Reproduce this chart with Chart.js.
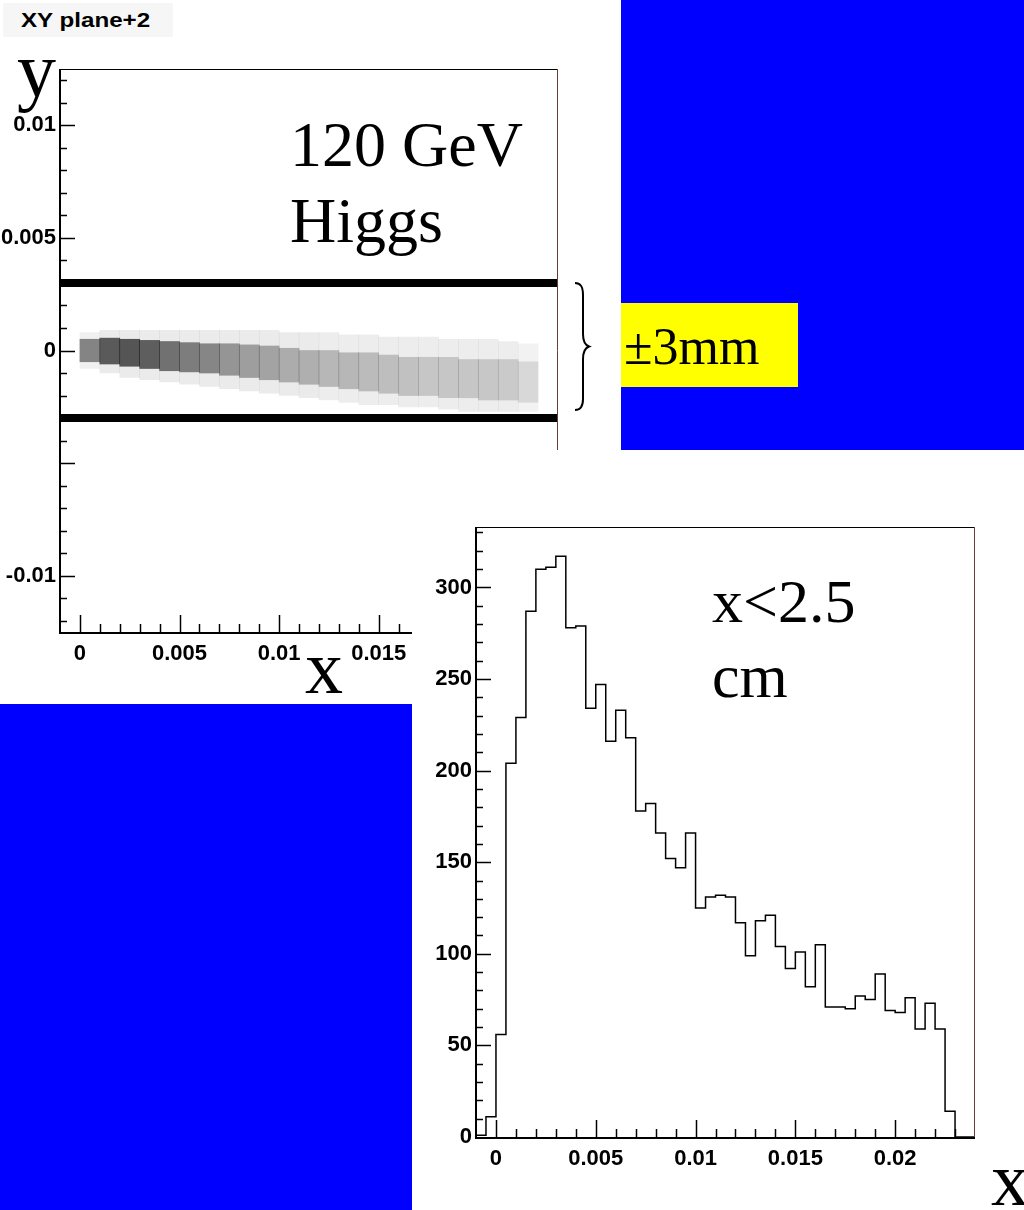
<!DOCTYPE html>
<html><head><meta charset="utf-8">
<script src="https://cdn.jsdelivr.net/npm/chart.js@4.4.0/dist/chart.umd.min.js"></script>
<style>
html,body{margin:0;padding:0;background:#fff;}
body{width:1024px;height:1210px;position:relative;overflow:hidden;}
.abs{position:absolute;}
.serif{font-family:"Liberation Serif","Times New Roman",serif;line-height:1;white-space:nowrap;color:#000;}
canvas{display:block;}
</style></head><body>
<div class="abs" style="left:3px;top:3px;width:170px;height:34px;background:#f6f6f6;"></div>
<div class="abs" id="title" style="left:21px;top:9px;font:bold 21px 'Liberation Sans',Arial,sans-serif;line-height:1;white-space:nowrap;transform:scaleX(1.15);transform-origin:0 0;">XY plane+2</div>
<canvas id="scatter" class="abs" width="620" height="700" style="left:0;top:0;"></canvas>
<div class="abs serif" style="left:290px;top:113px;font-size:64px;">120 GeV</div>
<div class="abs serif" style="left:290px;top:189px;font-size:64px;">Higgs</div>
<div class="abs serif" style="left:17px;top:31px;font-size:78px;">y</div>
<div class="abs serif" style="left:305px;top:629px;font-size:76px;">x</div>
<svg class="abs" style="left:560px;top:270px;" width="40" height="150" viewBox="0 0 40 150">
<path d="M15,13 C21,13 23,17 23,25 L23,64 C23,71 25,75 29,76.5 C25,78 23,82 23,89 L23,129 C23,136 21,140 15,140" fill="none" stroke="#000" stroke-width="2"/>
</svg>
<div class="abs" style="left:621px;top:0;width:403px;height:450px;background:#0000ff;"></div>
<div class="abs" style="left:621px;top:303px;width:177px;height:84px;background:#ffff00;"></div>
<div class="abs serif" style="left:624px;top:321px;font-size:52px;">±3mm</div>
<div class="abs" style="left:0;top:704px;width:412px;height:506px;background:#0000ff;"></div>
<div class="abs" style="left:412px;top:450px;width:612px;height:760px;background:#fff;">
<canvas id="hist" width="612" height="760"></canvas>
</div>
<div class="abs serif" style="left:712px;top:570px;font-size:62px;">x&lt;2.5</div>
<div class="abs serif" style="left:712px;top:645px;font-size:62px;">cm</div>
<div class="abs serif" style="left:991px;top:1141px;font-size:76px;">x</div>
<script>
// ---------- shared axis range ----------
const xMin = -0.001, xMax = 0.024;

// ---------- scatter (XY plane) ----------
const scatterYMin = -0.0125, scatterYMax = 0.0125;
const scatterXTicks = [0, 0.005, 0.01, 0.015, 0.02];
const scatterXTickLabels = ['0', '0.005', '0.01', '0.015', '0.02'];
const scatterYTicks = [-0.01, -0.005, 0, 0.005, 0.01];
const scatterYTickLabels = ['-0.01', '', '0', '0.005', '0.01'];
const cutLevels = [0.003, -0.003];
// cloud columns (x centre), dense core band and sparse halo band, with grey level
const colCenters = [0.0005,0.0015,0.0025,0.0035,0.0045,0.0055,0.0065,0.0075,0.0085,0.0095,0.0105,0.0115,0.0125,0.0135,0.0145,0.0155,0.0165,0.0175,0.0185,0.0195,0.0205,0.0215,0.0225];
const coreTop = [0.0005,0.00055,0.0005,0.00045,0.0004,0.00035,0.0003,0.0003,0.00025,0.0002,0.0001,0,0,-0.0001,-0.0001,-0.0002,-0.0003,-0.0003,-0.0003,-0.0004,-0.0004,-0.0004,-0.0005];
const coreBot = [-0.0005,-0.0006,-0.0007,-0.0008,-0.0009,-0.00095,-0.001,-0.0011,-0.0012,-0.0013,-0.0014,-0.0015,-0.0016,-0.0017,-0.0018,-0.0019,-0.002,-0.002,-0.0021,-0.0021,-0.0022,-0.0022,-0.0023];
const haloTop = [0.0008,0.0009,0.0009,0.0009,0.0009,0.0009,0.0009,0.0009,0.0009,0.0009,0.0008,0.0008,0.0008,0.0007,0.0007,0.0006,0.0006,0.0006,0.0005,0.0005,0.0005,0.0004,0.0003];
const haloBot = [-0.0008,-0.001,-0.0012,-0.0013,-0.0014,-0.0015,-0.0016,-0.0017,-0.0018,-0.0019,-0.002,-0.0021,-0.0022,-0.0023,-0.0024,-0.0024,-0.0025,-0.0025,-0.0026,-0.0027,-0.0027,-0.0027,-0.0027];
const coreShade = [0.45,0.62,0.64,0.6,0.52,0.47,0.43,0.37,0.33,0.31,0.27,0.26,0.23,0.23,0.21,0.2,0.19,0.17,0.17,0.17,0.16,0.15,0.11];
const haloShade = [0.06,0.08,0.08,0.08,0.08,0.08,0.08,0.08,0.08,0.08,0.08,0.08,0.07,0.07,0.07,0.07,0.07,0.07,0.07,0.07,0.07,0.07,0.05];

// ---------- histogram (x < 2.5 cm) ----------
const histEdges = [-0.001,-0.0005,0,0.0005,0.001,0.0015,0.002,0.0025,0.003,0.0035,0.004,0.0045,0.005,0.0055,0.006,0.0065,0.007,0.0075,0.008,0.0085,0.009,0.0095,0.01,0.0105,0.011,0.0115,0.012,0.0125,0.013,0.0135,0.014,0.0145,0.015,0.0155,0.016,0.0165,0.017,0.0175,0.018,0.0185,0.019,0.0195,0.02,0.0205,0.021,0.0215,0.022,0.0225,0.023,0.0235,0.024];
const histCounts = [1,11,56,204,229,287,310,311,317,278,279,234,247,216,233,218,178,182,166,152,147,166,125,131,132,131,117,99,118,121,104,92,101,82,105,71,71,70,77,75,89,69,68,76,59,73,59,14,0,0];
const histYMax = 333;
const histXTicks = [0, 0.005, 0.01, 0.015, 0.02];
const histXTickLabels = ['0', '0.005', '0.01', '0.015', '0.02'];
const histYTicks = [0, 50, 100, 150, 200, 250, 300];
const histYTickLabels = ['0', '50', '100', '150', '200', '250', '300'];

const tickFont = {family: "'Liberation Sans', Arial, sans-serif", size: 22, weight: 'bold'};

// plugin: ROOT-like frame with inward ticks, positioned by the chart scales
const rootFrame = {
  id: 'rootFrame',
  afterDatasetsDraw(chart, args, o) {
    const {ctx, chartArea: {left, right, top, bottom}, scales: {x, y}} = chart;
    ctx.save();
    ctx.lineCap = 'butt';
    ctx.strokeStyle = '#000';
    ctx.lineWidth = 1;
    ctx.beginPath(); ctx.moveTo(left, top + 0.5); ctx.lineTo(right, top + 0.5); ctx.stroke();
    ctx.strokeStyle = '#6e3b3b';
    ctx.beginPath(); ctx.moveTo(right - 0.5, top); ctx.lineTo(right - 0.5, bottom); ctx.stroke();
    ctx.strokeStyle = '#000';
    ctx.lineWidth = 2;
    ctx.beginPath(); ctx.moveTo(left, top); ctx.lineTo(left, bottom + 1); ctx.lineTo(right, bottom + 1); ctx.stroke();
    ctx.lineWidth = 1.5;
    for (let k = Math.ceil(x.min / o.xMinor + 1e-9); k * o.xMinor < x.max - 1e-12; k++) {
      const v = k * o.xMinor;
      if (v <= x.min + 1e-12) continue;
      const r = v / o.xMajor;
      const major = Math.abs(r - Math.round(r)) < 1e-6;
      const px = Math.round(x.getPixelForValue(v)) + 0.5;
      ctx.beginPath(); ctx.moveTo(px, bottom); ctx.lineTo(px, bottom - (major ? o.xMajLen : o.xMinLen)); ctx.stroke();
    }
    for (let k = Math.ceil(y.min / o.yMinor + 1e-9); k * o.yMinor < y.max - 1e-12; k++) {
      const v = k * o.yMinor;
      if (v <= y.min + 1e-12) continue;
      const r = v / o.yMajor;
      const major = Math.abs(r - Math.round(r)) < 1e-6;
      const py = Math.round(y.getPixelForValue(v)) + 0.5;
      ctx.beginPath(); ctx.moveTo(left, py); ctx.lineTo(left + (major ? o.yMajLen : o.yMinLen), py); ctx.stroke();
    }
    ctx.restore();
  }
};

function axisX(ticks, labels, h) {
  return {
    type: 'linear', min: xMin, max: xMax, offset: false,
    grid: {display: false, drawTicks: false}, border: {display: false},
    ticks: {font: tickFont, color: '#000', padding: 9, autoSkip: false, maxRotation: 0, callback: (v, i) => labels[i]},
    afterBuildTicks: s => { s.ticks = ticks.map(v => ({value: v})); },
    afterFit: s => { s.height = h; }
  };
}
function axisY(min, max, ticks, labels, w) {
  return {
    type: 'linear', min: min, max: max,
    grid: {display: false, drawTicks: false}, border: {display: false},
    ticks: {font: tickFont, color: '#000', padding: 4, autoSkip: false, callback: (v, i) => labels[i]},
    afterBuildTicks: s => { s.ticks = ticks.map(v => ({value: v})); },
    afterFit: s => { s.width = w; }
  };
}

new Chart(document.getElementById('scatter'), {
  type: 'bar',
  data: {
    datasets: [
      {label: 'halo', data: colCenters.map((c, i) => ({x: c, y: [haloBot[i], haloTop[i]]})),
       backgroundColor: haloShade.map(a => `rgba(0,0,0,${a})`), borderWidth: 0, borderSkipped: false,
       grouped: false, barPercentage: 1, categoryPercentage: 1, order: 3},
      {label: 'core', data: colCenters.map((c, i) => ({x: c, y: [coreBot[i], coreTop[i]]})),
       backgroundColor: coreShade.map(a => `rgba(0,0,0,${a})`), borderWidth: 0, borderSkipped: false,
       grouped: false, barPercentage: 1, categoryPercentage: 1, order: 2},
      ...cutLevels.map(c => ({type: 'line', label: 'cut', data: [{x: xMin, y: c}, {x: xMax, y: c}],
        borderColor: '#000', borderWidth: 8, pointRadius: 0, borderCapStyle: 'butt', fill: false, order: 1}))
    ]
  },
  options: {
    responsive: false, animation: false, devicePixelRatio: 1,
    layout: {padding: {left: 0, top: 69, right: 62, bottom: 28}},
    plugins: {legend: {display: false}, tooltip: {enabled: false},
      rootFrame: {xMinor: 0.001, xMajor: 0.005, yMinor: 0.001, yMajor: 0.005, xMajLen: 17, xMinLen: 8, yMajLen: 15, yMinLen: 7}},
    scales: {
      x: axisX(scatterXTicks, scatterXTickLabels, 40),
      y: axisY(scatterYMin, scatterYMax, scatterYTicks, scatterYTickLabels, 60)
    }
  },
  plugins: [rootFrame]
});

// each point holds a bin's lower edge and count; the step is drawn across the bin
const histPoints = histCounts.map((c, i) => ({x: histEdges[i], y: c}));
histPoints.push({x: histEdges[histEdges.length - 1], y: 0});

new Chart(document.getElementById('hist'), {
  type: 'line',
  data: {datasets: [{label: 'x', data: histPoints, stepped: 'before', borderColor: '#000', borderWidth: 1.5,
    pointRadius: 0, fill: false, tension: 0}]},
  options: {
    responsive: false, animation: false, devicePixelRatio: 1,
    layout: {padding: {left: 0, top: 77, right: 49, bottom: 33}},
    plugins: {legend: {display: false}, tooltip: {enabled: false},
      rootFrame: {xMinor: 0.001, xMajor: 0.005, yMinor: 10, yMajor: 50, xMajLen: 17, xMinLen: 8, yMajLen: 15, yMinLen: 7}},
    scales: {
      x: axisX(histXTicks, histXTickLabels, 40),
      y: axisY(0, histYMax, histYTicks, histYTickLabels, 64)
    }
  },
  plugins: [rootFrame]
});
</script>
</body></html>
